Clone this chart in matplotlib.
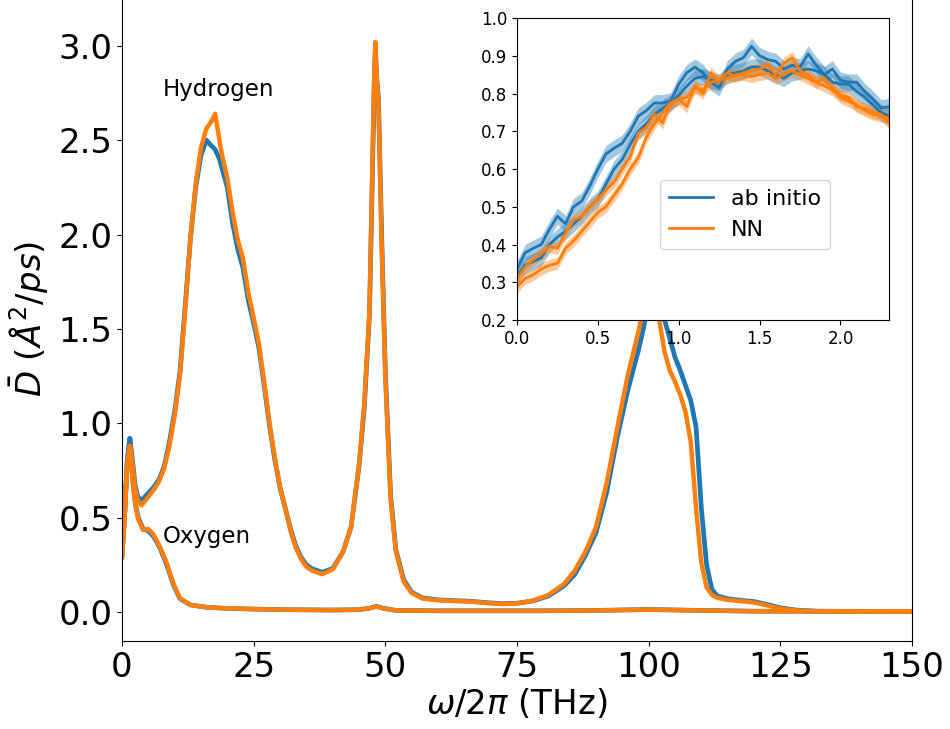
import numpy as np
import matplotlib
matplotlib.use("Agg")
import matplotlib.pyplot as plt

# Главные кривые: водород (H), частота в ТГц
freq_h = [0, 0.5, 1.0, 1.5, 2.0, 2.5, 3.0, 3.7, 5, 6, 7, 8, 9, 10, 11, 12, 13, 14,
          15, 16, 17, 17.7, 18.5, 19, 20, 21, 22, 23, 24, 25, 26, 27, 28, 29, 30,
          31, 32, 33, 34, 35, 36, 38, 40, 42, 43.5, 45, 46, 47, 47.5, 47.9, 48.1,
          48.4, 48.7, 49.3, 50, 51, 52, 53.5, 55, 57, 60, 63, 66, 69, 72, 75, 78,
          81, 84, 86, 88, 90, 92, 94, 96, 98, 99, 100, 101, 102, 103, 104, 105,
          106, 107, 108, 109, 110, 111, 112, 113, 115, 118, 120, 122, 125, 128,
          132, 140, 150]
h_nn = [0.29, 0.5, 0.78, 0.88, 0.78, 0.65, 0.59, 0.565, 0.61, 0.645, 0.69, 0.76,
        0.88, 1.04, 1.25, 1.6, 1.98, 2.27, 2.46, 2.56, 2.6, 2.64, 2.5, 2.42, 2.3,
        2.12, 1.97, 1.87, 1.69, 1.56, 1.42, 1.22, 1.0, 0.82, 0.66, 0.55, 0.43,
        0.34, 0.28, 0.24, 0.22, 0.2, 0.225, 0.32, 0.45, 0.78, 1.1, 1.6, 2.3,
        2.85, 3.02, 2.8, 2.7, 1.95, 1.25, 0.6, 0.32, 0.16, 0.1, 0.072, 0.062,
        0.058, 0.055, 0.048, 0.042, 0.045, 0.06, 0.09, 0.15, 0.22, 0.32, 0.45,
        0.68, 0.97, 1.25, 1.48, 1.6, 1.75, 1.8, 1.55, 1.38, 1.28, 1.22, 1.15,
        1.06, 0.9, 0.55, 0.26, 0.13, 0.09, 0.075, 0.064, 0.056, 0.05, 0.038,
        0.018, 0.008, 0.003, 0.002, 0.002]
h_ab = [0.3, 0.52, 0.8, 0.92, 0.8, 0.67, 0.61, 0.59, 0.63, 0.66, 0.7, 0.77,
        0.9, 1.06, 1.27, 1.62, 1.98, 2.25, 2.42, 2.5, 2.47, 2.45, 2.4, 2.35,
        2.25, 2.06, 1.92, 1.82, 1.65, 1.53, 1.4, 1.2, 0.99, 0.81, 0.66, 0.55,
        0.44, 0.35, 0.29, 0.25, 0.23, 0.21, 0.23, 0.32, 0.45, 0.77, 1.08, 1.58,
        2.25, 2.8, 2.98, 2.82, 2.72, 2.0, 1.28, 0.62, 0.33, 0.17, 0.105, 0.075,
        0.064, 0.06, 0.057, 0.05, 0.044, 0.046, 0.058, 0.085, 0.14, 0.2, 0.3,
        0.42, 0.63, 0.92, 1.17, 1.38, 1.5, 1.65, 1.85, 1.75, 1.55, 1.45, 1.35,
        1.28, 1.2, 1.12, 0.98, 0.55, 0.25, 0.12, 0.085, 0.07, 0.06, 0.055,
        0.043, 0.022, 0.01, 0.004, 0.002, 0.002]

# Кислород (O)
freq_o = [0, 0.5, 1.0, 1.5, 2.0, 2.5, 3.1, 4, 5, 6, 7.2, 8.5, 9.75, 11, 13, 16,
          19, 25, 31, 40, 45, 47, 48.3, 49.5, 52, 60, 80, 90, 100, 110, 120, 150]
o_nn = [0.29, 0.5, 0.78, 0.88, 0.7, 0.57, 0.49, 0.435, 0.44, 0.41, 0.345, 0.26,
        0.15, 0.072, 0.037, 0.025, 0.02, 0.015, 0.012, 0.01, 0.012, 0.02, 0.028,
        0.02, 0.008, 0.006, 0.006, 0.008, 0.012, 0.008, 0.004, 0.003]
o_ab = [0.3, 0.52, 0.8, 0.92, 0.72, 0.58, 0.5, 0.44, 0.43, 0.4, 0.34, 0.25,
        0.145, 0.07, 0.037, 0.025, 0.02, 0.015, 0.012, 0.01, 0.012, 0.02, 0.03,
        0.02, 0.008, 0.006, 0.006, 0.008, 0.013, 0.008, 0.004, 0.003]

# Вставка: область низких частот 0..2.3 ТГц
freq_in = np.arange(0, 2.31, 0.05)
in_h_ab = [0.335, 0.378, 0.39, 0.40, 0.44, 0.475, 0.455, 0.50, 0.515, 0.555, 0.60,
           0.64, 0.655, 0.668, 0.70, 0.74, 0.755, 0.775, 0.775, 0.78, 0.825, 0.855,
           0.87, 0.855, 0.83, 0.815, 0.865, 0.885, 0.895, 0.925, 0.90, 0.89, 0.885,
           0.865, 0.875, 0.87, 0.905, 0.875, 0.85, 0.865, 0.835, 0.83, 0.83, 0.805,
           0.785, 0.762, 0.765]
in_o_ab = [0.315, 0.345, 0.355, 0.365, 0.40, 0.42, 0.435, 0.455, 0.475, 0.50, 0.52,
           0.56, 0.60, 0.625, 0.665, 0.70, 0.72, 0.745, 0.76, 0.775, 0.795, 0.82,
           0.84, 0.845, 0.835, 0.83, 0.85, 0.855, 0.86, 0.87, 0.87, 0.86, 0.85,
           0.84, 0.855, 0.86, 0.865, 0.86, 0.85, 0.83, 0.825, 0.825, 0.805, 0.79,
           0.77, 0.75, 0.74]
in_h_nn = [0.31, 0.34, 0.36, 0.375, 0.395, 0.39, 0.43, 0.465, 0.475, 0.50, 0.52,
           0.545, 0.565, 0.60, 0.633, 0.695, 0.71, 0.745, 0.722, 0.775, 0.785, 0.765,
           0.82, 0.80, 0.855, 0.83, 0.855, 0.845, 0.855, 0.86, 0.865, 0.875, 0.85,
           0.88, 0.895, 0.86, 0.85, 0.83, 0.84, 0.815, 0.795, 0.79, 0.765, 0.76,
           0.75, 0.745, 0.722]
in_o_nn = [0.288, 0.31, 0.32, 0.335, 0.345, 0.35, 0.39, 0.41, 0.435, 0.46, 0.485,
           0.50, 0.53, 0.56, 0.60, 0.63, 0.685, 0.72, 0.75, 0.775, 0.785, 0.79,
           0.815, 0.81, 0.83, 0.835, 0.84, 0.85, 0.85, 0.845, 0.85, 0.854, 0.84,
           0.85, 0.86, 0.85, 0.84, 0.83, 0.82, 0.81, 0.79, 0.78, 0.77, 0.755,
           0.745, 0.74, 0.735]
err_ab = 0.022
err_nn = 0.016

blue = '#1f77b4'
orange = '#ff7f0e'

fig = plt.figure(figsize=(9.5, 7.29), dpi=100)
ax = fig.add_axes([0.1284, 0.1207, 0.8316, 0.8848])

ax.plot(freq_h, h_ab, color=blue, lw=3.4)
ax.plot(freq_o, o_ab, color=blue, lw=3.4)
ax.plot(freq_h, h_nn, color=orange, lw=3.2)
ax.plot(freq_o, o_nn, color=orange, lw=3.2)

ax.text(7.7, 2.77, 'Hydrogen', fontsize=16.5, ha='left', va='center')
ax.text(7.7, 0.40, 'Oxygen', fontsize=16.5, ha='left', va='center')

ax.set_xlim(0, 150)
ax.set_ylim(-0.154, 3.264)
ax.set_xticks([0, 25, 50, 75, 100, 125, 150])
ax.set_yticks([0.0, 0.5, 1.0, 1.5, 2.0, 2.5, 3.0])
ax.set_yticklabels(['0.0', '0.5', '1.0', '1.5', '2.0', '2.5', '3.0'])
ax.tick_params(labelsize=24.5)
ax.set_xlabel(r'$\omega/2\pi$ (THz)', fontsize=24.5, labelpad=2)
ax.set_ylabel(r'$\bar{D}$ ($Å^2/ps$)', fontsize=24.5, labelpad=6)

# Вставка
axi = fig.add_axes([0.5442, 0.561, 0.3916, 0.4143])
axi.fill_between(freq_in, np.array(in_h_ab) - err_ab, np.array(in_h_ab) + err_ab,
                 color=blue, alpha=0.4, lw=0)
axi.fill_between(freq_in, np.array(in_o_ab) - err_ab, np.array(in_o_ab) + err_ab,
                 color=blue, alpha=0.4, lw=0)
axi.fill_between(freq_in, np.array(in_h_nn) - err_nn, np.array(in_h_nn) + err_nn,
                 color=orange, alpha=0.4, lw=0)
axi.fill_between(freq_in, np.array(in_o_nn) - err_nn, np.array(in_o_nn) + err_nn,
                 color=orange, alpha=0.4, lw=0)
axi.plot(freq_in, in_h_ab, color=blue, lw=2, label='ab initio')
axi.plot(freq_in, in_o_ab, color=blue, lw=2)
axi.plot(freq_in, in_h_nn, color=orange, lw=2, label='NN')
axi.plot(freq_in, in_o_nn, color=orange, lw=2)
axi.set_xlim(0, 2.3)
axi.set_ylim(0.2, 1.0)
axi.set_xticks([0.0, 0.5, 1.0, 1.5, 2.0])
axi.set_yticks(np.arange(0.2, 1.01, 0.1))
axi.tick_params(labelsize=12)
axi.legend(loc='lower left', bbox_to_anchor=(0.384, 0.235), borderaxespad=0,
           fontsize=16)

fig.savefig('out.png', dpi=100)
